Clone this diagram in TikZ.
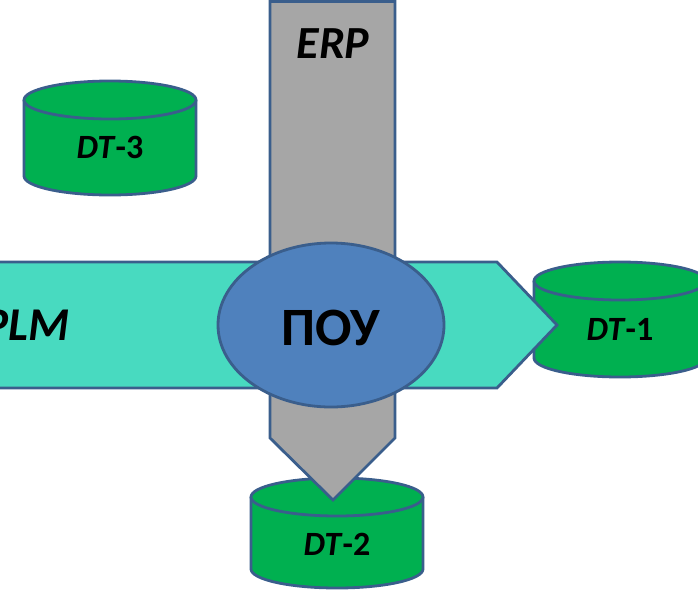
\documentclass[tikz,border=0pt]{standalone}
\usepackage{fontspec}
\setmainfont{Carlito}
\definecolor{bordc}{HTML}{3A5E8C}
\definecolor{tealc}{HTML}{48DAC0}
\definecolor{grayc}{HTML}{A6A6A6}
\definecolor{bluec}{HTML}{4F81BD}
\definecolor{greenc}{HTML}{00B050}
\tikzset{
  shp/.style={draw=bordc, line width=2.8pt, line join=miter},
  dbbody/.style={shp, fill=greenc},
  lbl/.style={inner sep=0pt, anchor=base, font=\bfseries},
}
\newcommand{\dbcyl}[4]{% cx, top center y, bottom center y, name
  \fill[greenc] (#1-86,#2) -- (#1-86,#3) arc[start angle=180,end angle=360,x radius=86pt,y radius=19pt] -- (#1+86,#2) -- cycle;
  \draw[shp] (#1-86,#2) -- (#1-86,#3) arc[start angle=180,end angle=360,x radius=86pt,y radius=19pt] -- (#1+86,#2);
  \draw[dbbody] (#1,#2) ellipse[x radius=86pt,y radius=19pt];
  \coordinate (#4) at (#1,#2);
}
\begin{document}
\begin{tikzpicture}[x=1pt,y=-1pt]
\useasboundingbox (0,0) rectangle (698,589);
% cylinders
\dbcyl{110}{100}{176}{c3}
\dbcyl{620}{281}{358}{c1}
\dbcyl{337}{497}{569}{c2}
% ERP bar
\draw[shp, fill=grayc] (270,1.5) -- (270,438) -- (333,500) -- (395,438) -- (395,1.5) -- cycle;
% PLM arrow
\draw[shp, fill=tealc] (-10,262) -- (497,262) -- (557,325) -- (497,388) -- (-10,388) -- cycle;
% central ellipse
\draw[shp, fill=bluec] (331,325) ellipse[x radius=113pt, y radius=82pt];
% labels
\node[lbl, font=\bfseries\itshape\fontsize{46}{46}\selectfont] (erp) at (333,58) {ERP};
\node[lbl, anchor=base east, font=\bfseries\itshape\fontsize{47}{47}\selectfont] (plm) at (70,340) {PLM};
\node[lbl, font=\bfseries\fontsize{54}{54}\selectfont] (pou) at (331,345) {ПОУ};
\node[lbl, font=\bfseries\fontsize{34}{34}\selectfont] (dt3) at (110,158) {\textit{DT}-3};
\node[lbl, font=\bfseries\fontsize{34}{34}\selectfont] (dt1) at (620,340) {\textit{DT}-1};
\node[lbl, font=\bfseries\fontsize{34}{34}\selectfont] (dt2) at (337,555) {\textit{DT}-2};
\end{tikzpicture}
\end{document}
